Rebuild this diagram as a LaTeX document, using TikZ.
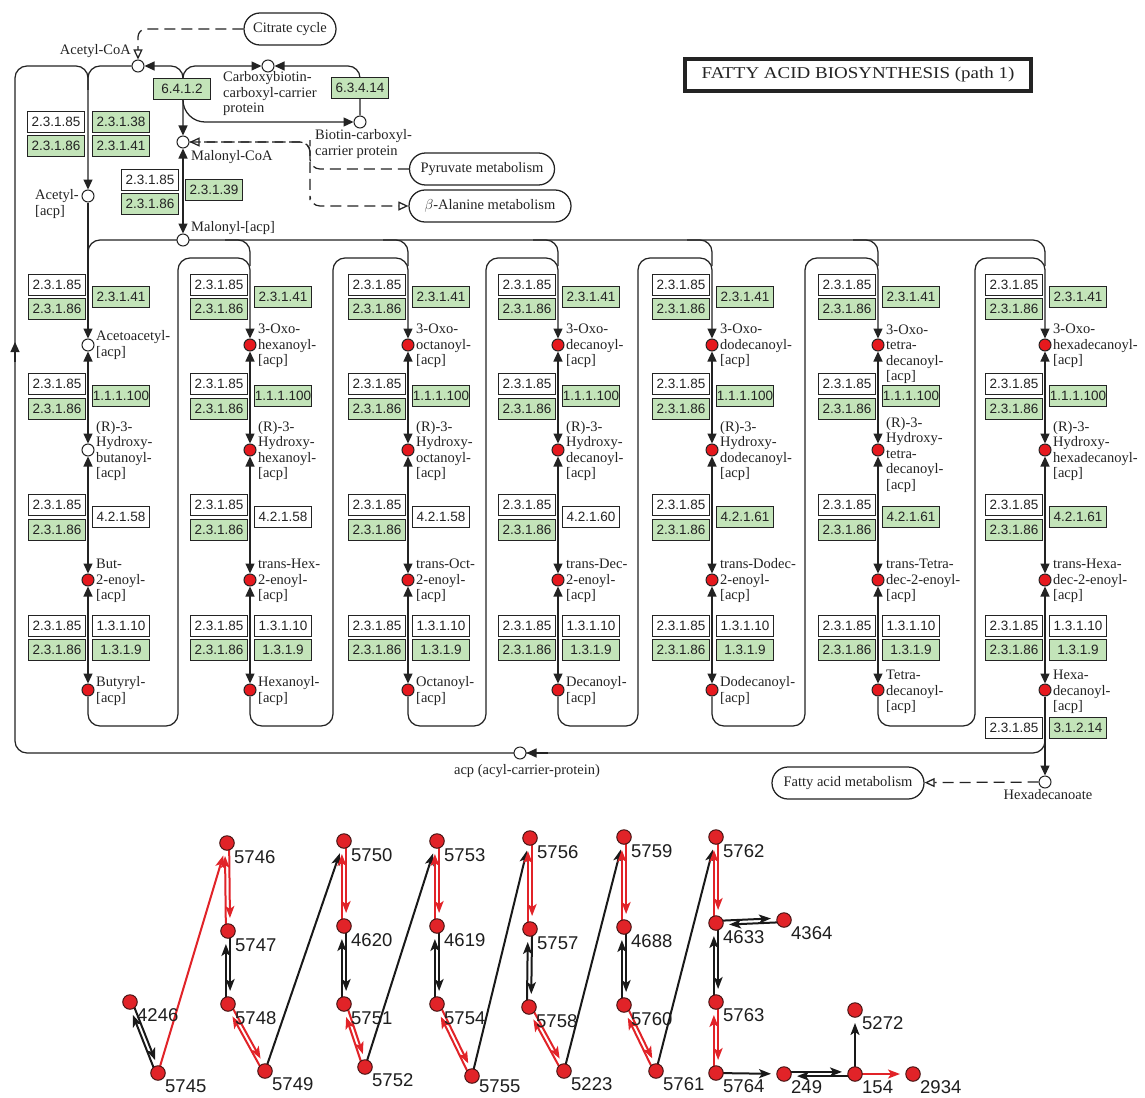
\documentclass[tikz,border=0pt]{standalone}
\usepackage{fontspec}
\usepackage{graphicx}
\usetikzlibrary{arrows.meta,calc,backgrounds,shapes.misc}
\newfontfamily\LSerif{Liberation Serif}
\newfontfamily\LSans{Liberation Sans}
\newcommand\fLab{\LSerif\fontsize{14.5pt}{15.5pt}\selectfont}
\newcommand\fEC{\LSans\fontsize{13.5pt}{14pt}\selectfont}
\newcommand\fGr{\LSans\fontsize{18.5pt}{20pt}\selectfont}
\definecolor{lc}{RGB}{35,35,35}
\definecolor{ecgreen}{RGB}{195,228,185}
\definecolor{cpdred}{RGB}{230,25,30}
\definecolor{gred}{RGB}{225,35,40}
\definecolor{gblk}{RGB}{25,25,25}
\definecolor{gdark}{RGB}{70,20,20}
\definecolor{gtext}{RGB}{30,30,30}

% one elongation column: #1 index, #2 x, #3 text of 4.2.1.x box, #4 its style, #5 style of first two circles
\newcommand\fcol[5]{%
  \node[ecw] (a85-#1) at (#2-31,285) {2.3.1.85};
  \node[ecg] (a86-#1) at (#2-31,309) {2.3.1.86};
  \node[ecg] (a41-#1) at (#2+33,297) {2.3.1.41};
  \node[ecw] (b85-#1) at (#2-31,384) {2.3.1.85};
  \node[ecg] (b86-#1) at (#2-31,409) {2.3.1.86};
  \node[ecg] (b100-#1) at (#2+33,396) {1.1.1.100};
  \node[ecw] (c85-#1) at (#2-31,505) {2.3.1.85};
  \node[ecg] (c86-#1) at (#2-31,530) {2.3.1.86};
  \node[#4] (c42-#1) at (#2+33,517) {#3};
  \node[ecw] (d85-#1) at (#2-31,626) {2.3.1.85};
  \node[ecg] (d86-#1) at (#2-31,650) {2.3.1.86};
  \node[ecw] (d10-#1) at (#2+33,626) {1.3.1.10};
  \node[ecg] (d9-#1) at (#2+33,650) {1.3.1.9};
  \node[#5] (oxo-#1) at (#2,345) {};
  \node[#5] (hyd-#1) at (#2,450) {};
  \node[cred] (eno-#1) at (#2,580) {};
  \node[cred] (acy-#1) at (#2,690) {};
}
\newcommand\fcollines[1]{%
  \draw[ln,darr] (oxo-#1) -- (hyd-#1);
  \draw[ln,darr] (hyd-#1) -- (eno-#1);
  \draw[ln,darr] (eno-#1) -- (acy-#1);
}
% loop from column #1 to column #2: left edge #3, x of next column #4
\newcommand\floop[4]{%
  \draw[ln,rounded corners=12pt,arr] (acy-#1.south) |- (#3,726) |- (#4,258) -- (oxo-#2);
}
% graph node: #1 name, #2 x, #3 y, #4 label y offset
\newcommand\gn[4]{%
  \node[gnode] (g#1) at (#2,#3) {};
  \node[glab] (t#1) at (#2+7,#3+#4) {#1};
}
\newcommand\sg[3]{\draw[gedge,color=#1] (g#2.center) -- (g#3.center);}
\newcommand\bi[3]{%
  \draw[gedge,color=#1] ($(g#2.center)!2.1pt!90:(g#3.center)$) -- ($(g#3.center)!2.1pt!-90:(g#2.center)$);
  \draw[gedge,color=#1] ($(g#3.center)!2.1pt!90:(g#2.center)$) -- ($(g#2.center)!2.1pt!-90:(g#3.center)$);
}

\begin{document}
\begin{tikzpicture}[x=1pt,y=-1pt,
  ln/.style={line width=1.25pt,draw=lc},
  arr/.style={-{Triangle[width=9pt,length=10pt]}},
  darr/.style={{Triangle[width=9pt,length=10pt]}-{Triangle[width=9pt,length=10pt]}},
  oarr/.style={-{Triangle[width=9pt,length=10pt,fill=white]}},
  dsh/.style={line width=1.25pt,draw=lc,dash pattern=on 11pt off 6pt},
  ecbox/.style={draw=lc,line width=1.1pt,minimum width=57pt,minimum height=21pt,inner sep=0pt,font=\fEC,text=lc},
  ecw/.style={ecbox,fill=white},
  ecg/.style={ecbox,fill=ecgreen},
  cpd/.style={circle,draw=lc,line width=1pt,minimum size=12pt,inner sep=0pt},
  cwhite/.style={cpd,fill=white},
  cred/.style={cpd,fill=cpdred},
  lab/.style={anchor=west,align=left,inner sep=0pt,font=\fLab,text=lc},
  txt/.style={inner sep=0pt,font=\fLab,text=lc},
  pill/.style={rounded rectangle,draw=lc,line width=1.25pt,minimum height=32pt,inner xsep=4pt,font=\fLab,text=lc,fill=white},
  gnode/.style={circle,fill=gred,draw=gdark,line width=1pt,minimum size=14.5pt,inner sep=0pt},
  glab/.style={anchor=west,inner sep=0pt,font=\fGr,text=gtext},
  gedge/.style={line width=2pt,-{Stealth[length=12pt,width=9pt,inset=3pt]},shorten >=13pt,shorten <=6pt}
]
\useasboundingbox (0,0) rectangle (1145,1097);

% ---------------- top part: nodes ----------------
\node[draw=lc,line width=3.5pt,minimum width=346pt,minimum height=32pt,inner sep=0pt,
      font=\LSerif\fontsize{16.5pt}{18pt}\selectfont,text=lc] (title) at (858,75)
      {\scalebox{1.15}[1]{FATTY ACID BIOSYNTHESIS (path 1)}};

\node[pill,minimum width=100pt] (citrate) at (290,29) {Citrate cycle};
\node[pill,minimum width=153pt] (pyruvate) at (482,169) {Pyruvate metabolism};
\node[pill,minimum width=170pt] (alanine) at (490,206) {$\beta$-Alanine metabolism};
\node[pill,minimum width=160pt] (fam) at (848,783) {Fatty acid metabolism};

\node[cwhite] (acetylcoa) at (138,66) {};
\node[txt,anchor=east] (lacetylcoa) at (131,51) {Acetyl-CoA};
\node[cwhite] (carboxy) at (268,66) {};
\node[lab] (lcarboxy) at (223,94) {Carboxybiotin-\\carboxyl-carrier\\protein};
\node[cwhite] (biotin) at (360,122) {};
\node[lab] (lbiotin) at (315,144) {Biotin-carboxyl-\\carrier protein};
\node[cwhite] (malonylcoa) at (183,142) {};
\node[txt,anchor=west] (lmalonylcoa) at (191,157) {Malonyl-CoA};
\node[cwhite] (acetylacp) at (88,196) {};
\node[lab] (lacetylacp) at (35,204) {Acetyl-\\{[acp]}};
\node[cwhite] (malonylacp) at (183,240) {};
\node[txt,anchor=west] (lmalonylacp) at (191,228) {Malonyl-[acp]};
\node[cwhite] (acp) at (520,753) {};
\node[txt] (lacp) at (527,771) {acp (acyl-carrier-protein)};
\node[cwhite] (hexa) at (1045,782) {};
\node[txt] (lhexa) at (1048,795) {Hexadecanoate};

\node[ecg] (e6412) at (182,89) {6.4.1.2};
\node[ecg] (e63414) at (360,88) {6.3.4.14};
\node[ecw] (t85) at (56,122) {2.3.1.85};
\node[ecg] (t38) at (121,122) {2.3.1.38};
\node[ecg] (t86) at (56,146) {2.3.1.86};
\node[ecg] (t41) at (121,146) {2.3.1.41};
\node[ecw] (m85) at (150,180) {2.3.1.85};
\node[ecg] (m86) at (150,204) {2.3.1.86};
\node[ecg] (m39) at (214,190) {2.3.1.39};

\fcol{1}{88}{4.2.1.58}{ecw}{cwhite}
\fcol{2}{250}{4.2.1.58}{ecw}{cred}
\fcol{3}{408}{4.2.1.58}{ecw}{cred}
\fcol{4}{558}{4.2.1.60}{ecw}{cred}
\fcol{5}{712}{4.2.1.61}{ecg}{cred}
\fcol{6}{878}{4.2.1.61}{ecg}{cred}
\fcol{7}{1045}{4.2.1.61}{ecg}{cred}
\node[ecw] (x85) at (1014,728) {2.3.1.85};
\node[ecg] (x312) at (1078,728) {3.1.2.14};

% compound labels
\node[lab] (loxo-1) at (96,345) {Acetoacetyl-\\{[acp]}};
\node[lab] (lhyd-1) at (96,451) {(R)-3-\\Hydroxy-\\butanoyl-\\{[acp]}};
\node[lab] (leno-1) at (96,581) {But-\\2-enoyl-\\{[acp]}};
\node[lab] (lacy-1) at (96,691) {Butyryl-\\{[acp]}};

\node[lab] (loxo-2) at (258,346) {3-Oxo-\\hexanoyl-\\{[acp]}};
\node[lab] (lhyd-2) at (258,451) {(R)-3-\\Hydroxy-\\hexanoyl-\\{[acp]}};
\node[lab] (leno-2) at (258,581) {trans-Hex-\\2-enoyl-\\{[acp]}};
\node[lab] (lacy-2) at (258,691) {Hexanoyl-\\{[acp]}};

\node[lab] (loxo-3) at (416,346) {3-Oxo-\\octanoyl-\\{[acp]}};
\node[lab] (lhyd-3) at (416,451) {(R)-3-\\Hydroxy-\\octanoyl-\\{[acp]}};
\node[lab] (leno-3) at (416,581) {trans-Oct-\\2-enoyl-\\{[acp]}};
\node[lab] (lacy-3) at (416,691) {Octanoyl-\\{[acp]}};

\node[lab] (loxo-4) at (566,346) {3-Oxo-\\decanoyl-\\{[acp]}};
\node[lab] (lhyd-4) at (566,451) {(R)-3-\\Hydroxy-\\decanoyl-\\{[acp]}};
\node[lab] (leno-4) at (566,581) {trans-Dec-\\2-enoyl-\\{[acp]}};
\node[lab] (lacy-4) at (566,691) {Decanoyl-\\{[acp]}};

\node[lab] (loxo-5) at (720,346) {3-Oxo-\\dodecanoyl-\\{[acp]}};
\node[lab] (lhyd-5) at (720,451) {(R)-3-\\Hydroxy-\\dodecanoyl-\\{[acp]}};
\node[lab] (leno-5) at (720,581) {trans-Dodec-\\2-enoyl-\\{[acp]}};
\node[lab] (lacy-5) at (720,691) {Dodecanoyl-\\{[acp]}};

\node[lab] (loxo-6) at (886,354) {3-Oxo-\\tetra-\\decanoyl-\\{[acp]}};
\node[lab] (lhyd-6) at (886,455) {(R)-3-\\Hydroxy-\\tetra-\\decanoyl-\\{[acp]}};
\node[lab] (leno-6) at (886,581) {trans-Tetra-\\dec-2-enoyl-\\{[acp]}};
\node[lab] (lacy-6) at (886,692) {Tetra-\\decanoyl-\\{[acp]}};

\node[lab] (loxo-7) at (1053,346) {3-Oxo-\\hexadecanoyl-\\{[acp]}};
\node[lab] (lhyd-7) at (1053,451) {(R)-3-\\Hydroxy-\\hexadecanoyl-\\{[acp]}};
\node[lab] (leno-7) at (1053,581) {trans-Hexa-\\dec-2-enoyl-\\{[acp]}};
\node[lab] (lacy-7) at (1053,692) {Hexa-\\decanoyl-\\{[acp]}};

% ---------------- bottom graph: nodes ----------------
\gn{4246}{130}{1002}{13}
\gn{5745}{158}{1073}{13}
\gn{5746}{227}{843}{14}
\gn{5747}{228}{931}{14}
\gn{5748}{228}{1004}{14}
\gn{5749}{265}{1071}{13}
\gn{5750}{344}{841}{14}
\gn{4620}{344}{926}{14}
\gn{5751}{344}{1004}{14}
\gn{5752}{365}{1067}{13}
\gn{5753}{437}{841}{14}
\gn{4619}{437}{926}{14}
\gn{5754}{437}{1004}{14}
\gn{5755}{472}{1076}{10}
\gn{5756}{530}{838}{14}
\gn{5757}{530}{929}{14}
\gn{5758}{529}{1007}{14}
\gn{5223}{564}{1071}{13}
\gn{5759}{624}{837}{14}
\gn{4688}{624}{927}{14}
\gn{5760}{624}{1005}{14}
\gn{5761}{656}{1071}{13}
\gn{5762}{716}{837}{14}
\gn{4633}{716}{923}{14}
\gn{4364}{784}{920}{13}
\gn{5763}{716}{1002}{13}
\gn{5764}{716}{1073}{13}
\gn{249}{784}{1074}{13}
\gn{154}{855}{1074}{13}
\gn{2934}{913}{1074}{13}
\gn{5272}{855}{1010}{13}

% ---------------- connectors (behind nodes) ----------------
\begin{pgfonlayer}{background}
\fill[white] (0,0) rectangle (1145,1097);

% outer acp loop
\draw[ln,rounded corners=12pt] (1045,730) |- (15,753) |- (88,66) -- (88,90);
\draw[ln,arr] (15,362) -- (15,342);
\draw[ln,arr] (548,753) -- (acp);
% acetyl-CoA region
\draw[ln,rounded corners=12pt,arr] (acetylcoa) -| (acetylacp);
\draw[ln,rounded corners=12pt,darr] (acetylcoa) -| (malonylcoa);
\draw[ln,rounded corners=12pt,arr] (183,92) |- (carboxy);
\draw[ln,rounded corners=22pt,arr] (183,95) |- (biotin);
\draw[ln,rounded corners=12pt,arr] (biotin) |- (carboxy);
\draw[ln,darr] (malonylcoa) -- (malonylacp);
\draw[ln,arr] (acetylacp) -- (oxo-1);
% dashed links
\draw[dsh,rounded corners=8pt,oarr] (citrate) -| (acetylcoa);
\draw[dsh,rounded corners=10pt,oarr] (pyruvate) -| (310,150) |- (malonylcoa);
\draw[dsh,rounded corners=10pt,oarr] (malonylcoa) -| (310,190) |- (alanine);
\draw[dsh,oarr] (hexa) -- (fam);
% malonyl-[acp] distribution line
\draw[ln,rounded corners=12pt] (88,256) |- (1045,240) -- (1045,266);
\foreach \xx in {250,408,558,712,878}
  \draw[ln,rounded corners=12pt] (\xx-25,240) -| (\xx,266);
% columns
\fcollines{1}\fcollines{2}\fcollines{3}\fcollines{4}\fcollines{5}\fcollines{6}\fcollines{7}
\floop{1}{2}{178}{250}
\floop{2}{3}{333}{408}
\floop{3}{4}{486}{558}
\floop{4}{5}{638}{712}
\floop{5}{6}{805}{878}
\floop{6}{7}{975}{1045}
\draw[ln,arr] (acy-7) -- (hexa);

% bottom graph edges
\bi{gblk}{4246}{5745}
\sg{gred}{5745}{5746}
\bi{gred}{5746}{5747}
\bi{gblk}{5747}{5748}
\bi{gred}{5748}{5749}
\sg{gblk}{5749}{5750}
\bi{gred}{5750}{4620}
\bi{gblk}{4620}{5751}
\bi{gred}{5751}{5752}
\sg{gblk}{5752}{5753}
\bi{gred}{5753}{4619}
\bi{gblk}{4619}{5754}
\bi{gred}{5754}{5755}
\sg{gblk}{5755}{5756}
\bi{gred}{5756}{5757}
\bi{gblk}{5757}{5758}
\bi{gred}{5758}{5223}
\sg{gblk}{5223}{5759}
\bi{gred}{5759}{4688}
\bi{gblk}{4688}{5760}
\bi{gred}{5760}{5761}
\sg{gblk}{5761}{5762}
\bi{gred}{5762}{4633}
\bi{gblk}{4633}{4364}
\bi{gblk}{4633}{5763}
\bi{gred}{5763}{5764}
\sg{gblk}{5764}{249}
\bi{gblk}{249}{154}
\sg{gblk}{154}{5272}
\sg{gred}{154}{2934}
\end{pgfonlayer}
\end{tikzpicture}
\end{document}
